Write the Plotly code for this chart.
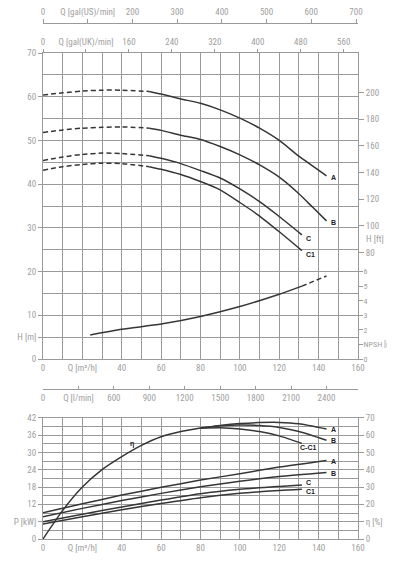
import plotly.graph_objects as go

# ---------------- Data: Q-H curves (Q in m3/h, H in m) ----------------
Q_A_dash = [0, 10, 20, 30, 40, 54]
H_A_dash = [60.4, 60.9, 61.3, 61.5, 61.5, 61.2]
Q_A_sol = [54, 60, 70, 80, 90, 100, 110, 120, 130, 144]
H_A_sol = [61.2, 60.6, 59.5, 58.5, 57.0, 55.1, 52.8, 50.0, 46.4, 41.9]

Q_B_dash = [0, 10, 20, 30, 40, 54]
H_B_dash = [51.8, 52.4, 52.8, 53.0, 53.1, 52.8]
Q_B_sol = [54, 60, 70, 80, 90, 100, 110, 120, 130, 137, 144]
H_B_sol = [52.8, 52.3, 51.2, 50.2, 48.6, 46.7, 44.4, 41.6, 37.8, 34.7, 31.6]

Q_C_dash = [0, 10, 20, 30, 40, 54]
H_C_dash = [45.4, 46.2, 46.8, 47.1, 47.0, 46.5]
Q_C_sol = [54, 60, 70, 80, 90, 100, 110, 120, 131.5]
H_C_sol = [46.5, 45.9, 44.7, 43.1, 41.4, 38.9, 36.0, 32.6, 28.4]

Q_C1_dash = [0, 10, 20, 30, 40, 54]
H_C1_dash = [43.2, 44.0, 44.5, 44.8, 44.7, 44.0]
Q_C1_sol = [54, 60, 70, 80, 90, 100, 110, 120, 131.5]
H_C1_sol = [44.0, 43.4, 42.2, 40.6, 38.7, 35.8, 32.7, 29.1, 24.8]

# NPSH [m]
Q_NPSH_sol = [24, 40, 60, 80, 100, 120, 131.5]
NPSH_sol = [1.65, 2.04, 2.4, 2.92, 3.6, 4.44, 5.0]
Q_NPSH_dash = [131.5, 144]
NPSH_dash = [5.0, 5.7]

# ---------------- Data: efficiency [%] ----------------
Q_eta_common = [0, 10, 20, 30, 40, 50, 60, 70, 80]
eta_common = [0, 16.5, 30, 40, 47.5, 54, 59, 62, 64]
Q_eta_A = [80, 90, 100, 110, 120, 130, 144]
eta_A = [64, 65.5, 66.6, 67.2, 67.3, 66.5, 63.5]
Q_eta_B = [80, 90, 100, 110, 120, 130, 144]
eta_B = [64, 65.3, 65.8, 65.5, 64.4, 62.0, 57.0]
Q_eta_C = [80, 90, 100, 110, 120, 131.5]
eta_C = [64, 64.2, 63.5, 62.0, 59.5, 55.2]

# ---------------- Data: power [kW] ----------------
Q_P_AB = [0, 20, 40, 60, 80, 100, 120, 144]
P_A = [9.1, 12.2, 15.2, 17.9, 20.4, 22.6, 24.9, 27.2]
P_B = [7.7, 10.6, 13.3, 15.8, 18.1, 20.0, 21.6, 23.0]
Q_P_C = [0, 20, 40, 60, 80, 100, 120, 131.5]
P_C = [6.0, 8.6, 11.1, 13.5, 15.7, 17.2, 18.2, 18.7]
P_C1 = [5.2, 7.7, 10.1, 12.3, 14.3, 15.8, 16.8, 17.2]

# ---------------- Tick labels ----------------
q_tickvals = [0, 20, 40, 60, 80, 100, 120, 140, 160]
q_ticktext = ["0", "Q [m³/h]", "40", "60", "80", "100", "120", "140", "160"]
h_tickvals = [0, 5, 10, 20, 30, 40, 50, 60, 70]
h_ticktext = ["0", "H [m]", "10", "20", "30", "40", "50", "60", "70"]
hft_tickvals = [80, 100, 120, 140, 160, 180, 200]
npsh_tickvals = [0, 1, 2, 3, 4, 5, 6]
npsh_ticktext = ["0", "NPSH [m]", "2", "3", "4", "5", "6"]
uk_tickvals = [0, 80, 160, 240, 320, 400, 480, 560]
uk_ticktext = ["0", "Q [gal(UK)/min]", "160", "240", "320", "400", "480", "560"]
us_tickvals = [0, 100, 200, 300, 400, 500, 600, 700]
us_ticktext = ["0", "Q [gal(US)/min]", "200", "300", "400", "500", "600", "700"]
lmin_tickvals = [0, 300, 600, 900, 1200, 1500, 1800, 2100, 2400]
lmin_ticktext = ["0", "Q [l/min]", "600", "900", "1200", "1500", "1800", "2100", "2400"]
p_tickvals = [0, 6, 12, 18, 24, 30, 36, 42]
p_ticktext = ["0", "P [kW]", "12", "18", "24", "30", "36", "42"]
eta_tickvals = [0, 10, 20, 30, 40, 50, 60, 70]
eta_ticktext = ["0", "η [%]", "20", "30", "40", "50", "60", "70"]

QMAX = 160
HMAX = 70

LINE = "#363636"
GRID = "#9a9a9a"
TXT = "#a0a0a0"
FONT = "Liberation Sans Narrow, Roboto Condensed, Liberation Sans, Arial, sans-serif"
DASH = "5px,3px"

fig = go.Figure()


def add(x, y, xa="x", ya="y", dash=None):
    fig.add_trace(go.Scatter(
        x=x, y=y, xaxis=xa, yaxis=ya, mode="lines",
        line=dict(color=LINE, width=1.5, dash=dash, shape="spline", smoothing=0.6),
        showlegend=False, hoverinfo="skip"))


# top H curves
for qd, hd, qs, hs in [(Q_A_dash, H_A_dash, Q_A_sol, H_A_sol),
                       (Q_B_dash, H_B_dash, Q_B_sol, H_B_sol),
                       (Q_C_dash, H_C_dash, Q_C_sol, H_C_sol),
                       (Q_C1_dash, H_C1_dash, Q_C1_sol, H_C1_sol)]:
    add(qd, hd, "x", "y", DASH)
    add(qs, hs, "x", "y")

# NPSH
add(Q_NPSH_sol, NPSH_sol, "x", "y5")
add(Q_NPSH_dash, NPSH_dash, "x", "y5", DASH)

# efficiency
add(Q_eta_common, eta_common, "x3", "y4")
add(Q_eta_A, eta_A, "x3", "y4")
add(Q_eta_B, eta_B, "x3", "y4")
add(Q_eta_C, eta_C, "x3", "y4")

# power
add(Q_P_AB, P_A, "x3", "y3")
add(Q_P_AB, P_B, "x3", "y3")
add(Q_P_C, P_C, "x3", "y3")
add(Q_P_C, P_C1, "x3", "y3")

# dummy traces so that extra axes are drawn
for xa, ya in [("x2", "y"), ("x4", "y"), ("x5", "y"), ("x", "y2")]:
    fig.add_trace(go.Scatter(x=[None], y=[None], xaxis=xa, yaxis=ya,
                             mode="lines", showlegend=False, hoverinfo="skip"))

# page body has an 8px margin: figure is drawn from (8, 8)
OFF = 8
W = 395 - OFF
H = 571 - OFF


def py(ypix):
    return 1 - (ypix - OFF) / H


top_dom = [py(359), py(53)]
bot_dom = [py(539), py(417.7)]

tickfont = dict(family=FONT, size=9, color=TXT)
smallfont = dict(family=FONT, size=8, color=TXT)

common_x = dict(range=[0, QMAX], tickvals=q_tickvals, ticktext=q_ticktext,
                showgrid=True, gridcolor=GRID, gridwidth=1,
                minor=dict(dtick=10, tick0=0, showgrid=True, gridcolor=GRID, gridwidth=1),
                showline=True, linecolor=GRID, linewidth=1, mirror=True,
                ticks="", zeroline=False, tickfont=tickfont, tickangle=0,
                automargin=False)

ml = 43 - OFF
mr = W - ml - 315

fig.update_layout(
    width=W, height=H,
    margin=dict(l=ml, r=mr, t=0, b=0),
    paper_bgcolor="white", plot_bgcolor="white",
    font=dict(family=FONT, size=9, color=TXT),
    xaxis=dict(domain=[0, 1], anchor="y", **common_x),
    yaxis=dict(domain=top_dom, anchor="x", range=[0, HMAX],
               tickvals=h_tickvals, ticktext=h_ticktext,
               showgrid=True, gridcolor=GRID,
               minor=dict(dtick=5, tick0=0, showgrid=True, gridcolor=GRID),
               showline=True, linecolor=GRID, mirror=True,
               ticks="outside", ticklen=4, tickcolor=GRID,
               zeroline=False, tickfont=tickfont, automargin=False),
    yaxis2=dict(overlaying="y", side="right", anchor="x",
                range=[0, HMAX / 0.3048], tickvals=hft_tickvals,
                showgrid=False, zeroline=False, showline=False,
                ticks="outside", ticklen=5, tickcolor=GRID, tickfont=tickfont,
                automargin=False),
    yaxis5=dict(overlaying="y", side="right", anchor="x",
                range=[0, HMAX * 0.3], tickvals=npsh_tickvals, ticktext=npsh_ticktext,
                showgrid=False, zeroline=False, showline=False,
                ticks="outside", ticklen=4, tickcolor=GRID, tickfont=smallfont,
                ticklabelstandoff=-1, ticklabeloverflow="allow",
                automargin=False),
    xaxis2=dict(overlaying="x", anchor="y", side="top",
                range=[0, QMAX * 3.66615], tickvals=uk_tickvals, ticktext=uk_ticktext,
                showgrid=False, zeroline=False, showline=True, linecolor=GRID,
                ticks="outside", ticklen=3, tickcolor=GRID, tickfont=tickfont,
                tickangle=0, automargin=False),
    xaxis4=dict(overlaying="x", anchor="free", position=py(23), side="top",
                range=[0, QMAX * 4.40287], tickvals=us_tickvals, ticktext=us_ticktext,
                showgrid=False, zeroline=False, showline=True, linecolor=GRID,
                ticks="outside", ticklen=4, tickcolor=GRID, tickfont=tickfont,
                tickangle=0, automargin=False),
    xaxis5=dict(overlaying="x", anchor="free", position=py(389), side="bottom",
                range=[0, QMAX * 1000 / 60], tickvals=lmin_tickvals, ticktext=lmin_ticktext,
                showgrid=False, zeroline=False, showline=True, linecolor=GRID,
                ticks="inside", ticklen=3, tickcolor=GRID, tickfont=tickfont,
                tickangle=0, automargin=False),
    xaxis3=dict(domain=[0, 1], anchor="y3", **common_x),
    yaxis3=dict(domain=bot_dom, anchor="x3", range=[0, 42],
                tickvals=p_tickvals, ticktext=p_ticktext,
                showgrid=True, gridcolor=GRID,
                minor=dict(dtick=3, tick0=0, showgrid=True, gridcolor=GRID),
                showline=True, linecolor=GRID, mirror=True,
                ticks="outside", ticklen=4, tickcolor=GRID,
                zeroline=False, tickfont=tickfont, automargin=False),
    yaxis4=dict(overlaying="y3", side="right", anchor="x3", range=[0, 70],
                tickvals=eta_tickvals, ticktext=eta_ticktext,
                showgrid=False, zeroline=False, showline=False,
                ticks="outside", ticklen=5, tickcolor=GRID, tickfont=tickfont,
                automargin=False),
)

# axis title for H [ft] (no tick mark in the original)
fig.add_annotation(x=1, xref="paper", y=90, yref="y2", text="H [ft]",
                   showarrow=False, xanchor="left", xshift=6,
                   font=dict(family=FONT, size=9, color=TXT))

lab = dict(family="Liberation Sans, Arial, sans-serif", size=7, color="#222222")


def label(txt, x, y, xa, ya, xanchor="left"):
    fig.add_annotation(x=x, y=y, xref=xa, yref=ya, text="<b>%s</b>" % txt,
                       showarrow=False, xanchor=xanchor, yanchor="middle", font=lab)


label("A", 145.5, 41.6, "x", "y")
label("B", 145.5, 31.3, "x", "y")
label("C", 132.5, 27.6, "x", "y")
label("C1", 132.5, 23.8, "x", "y")
label("A", 145.5, 63.0, "x3", "y4")
label("B", 145.5, 57.0, "x3", "y4")
label("C-C1", 134.7, 52.8, "x3", "y4", "center")
label("η", 45.2, 54.6, "x3", "y4", "center")
label("A", 145.5, 27.0, "x3", "y3")
label("B", 145.5, 22.8, "x3", "y3")
label("C", 132.5, 19.6, "x3", "y3")
label("C1", 132.5, 16.6, "x3", "y3")

fig.write_html("out.html")
